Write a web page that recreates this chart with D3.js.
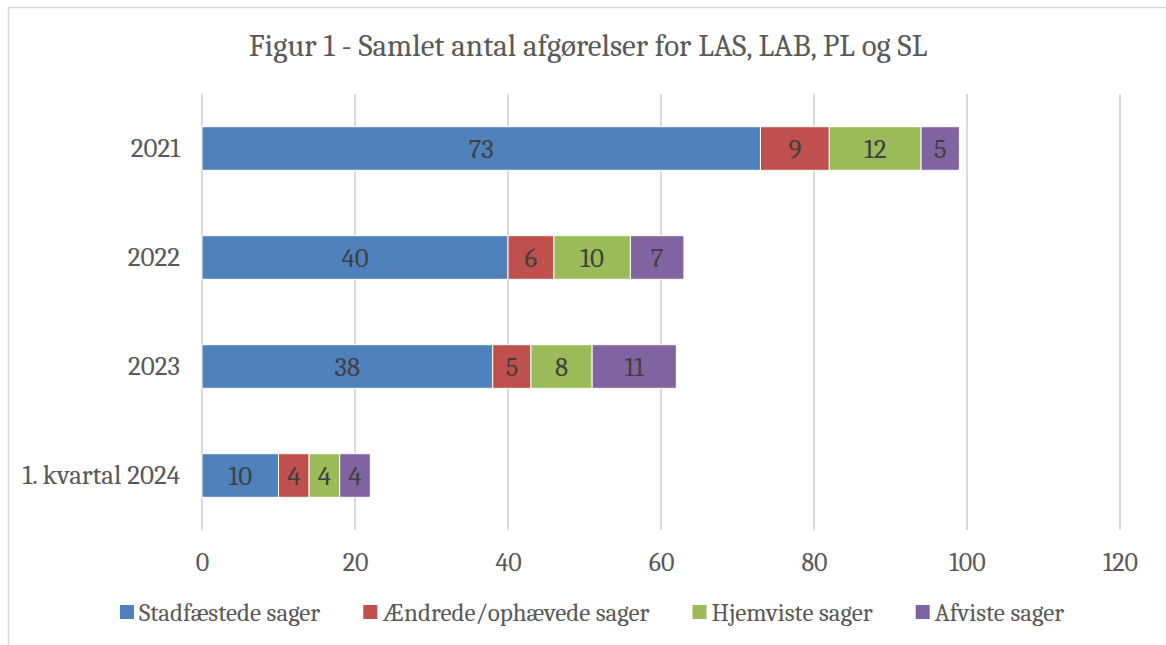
<!DOCTYPE html>
<html>
<head>
<meta charset="utf-8" />
<script src="https://cdn.jsdelivr.net/npm/d3@7"></script>
<style>
    body { margin: 0; background: #fff; }
    svg text { font-family: Cambria, "Liberation Serif", serif; }
</style>
</head>
<body>
<svg id="chart" width="1166" height="645"></svg>
<script>
    var categories = ['2021', '2022', '2023', '1. kvartal 2024'];
    var seriesNames = ['Stadfæstede sager', 'Ændrede/ophævede sager', 'Hjemviste sager', 'Afviste sager'];
    var stadfaestede = [73, 40, 38, 10];
    var aendrede = [9, 6, 5, 4];
    var hjemviste = [12, 10, 8, 4];
    var afviste = [5, 7, 11, 4];
    var xTicks = [0, 20, 40, 60, 80, 100, 120];
    var colors = ['#4F81BD', '#C0504D', '#9BBB59', '#8064A2'];

    var svg = d3.select('#chart');

    // chart border
    svg.append('rect').attr('x', 8.5).attr('y', 7.5).attr('width', 1170).attr('height', 650)
        .attr('fill', '#fff').attr('stroke', '#d9d9d9').attr('stroke-width', 1.5);

    svg.append('text').attr('x', 588).attr('y', 56).attr('text-anchor', 'middle')
        .style('font-size', '31px').style('fill', '#595959')
        .text('Figur 1 - Samlet antal afgørelser for LAS, LAB, PL og SL');

    var x = d3.scaleLinear().domain([0, 120]).range([202, 1120]);
    var y = d3.scaleBand().domain(categories).range([94, 530]).paddingInner(0.6).paddingOuter(0.3);

    // gridlines
    svg.append('g').selectAll('line').data(xTicks).enter().append('line')
        .attr('x1', function(d) { return x(d); }).attr('x2', function(d) { return x(d); })
        .attr('y1', 94).attr('y2', 530)
        .attr('stroke', '#d9d9d9').attr('stroke-width', 2);

    var xAxis = d3.axisBottom(x).tickValues(xTicks).tickSize(0).tickPadding(0);
    var gx = svg.append('g').attr('transform', 'translate(0,552)').call(xAxis);
    gx.select('.domain').remove();
    gx.selectAll('text').style('font-size', '26px').style('fill', '#595959').attr('dy', '0.72em');

    var yAxis = d3.axisLeft(y).tickSize(0).tickPadding(0);
    var gy = svg.append('g').attr('transform', 'translate(180,0)').call(yAxis);
    gy.select('.domain').remove();
    gy.selectAll('text').style('font-size', '27px').style('fill', '#595959');

    var table = categories.map(function(c, i) {
        return { cat: c, s0: stadfaestede[i], s1: aendrede[i], s2: hjemviste[i], s3: afviste[i] };
    });
    var stack = d3.stack().keys(['s0', 's1', 's2', 's3'])(table);

    var layers = svg.append('g').selectAll('g').data(stack).enter().append('g')
        .attr('fill', function(d, i) { return colors[i]; });

    layers.selectAll('rect').data(function(d) { return d; }).enter().append('rect')
        .attr('x', function(d) { return x(d[0]); })
        .attr('width', function(d) { return x(d[1]) - x(d[0]); })
        .attr('y', function(d) { return y(d.data.cat); })
        .attr('height', y.bandwidth())
        .attr('stroke', '#fff').attr('stroke-width', 1);

    layers.selectAll('text').data(function(d) { return d; }).enter().append('text')
        .attr('x', function(d) { return (x(d[0]) + x(d[1])) / 2; })
        .attr('y', function(d) { return y(d.data.cat) + y.bandwidth() / 2; })
        .attr('dy', '0.35em').attr('text-anchor', 'middle')
        .style('font-size', '27px').style('fill', '#404040')
        .text(function(d) { return d[1] - d[0]; });

    // legend
    var legend = svg.append('g').attr('transform', 'translate(0,612)');
    var items = legend.selectAll('g').data(seriesNames).enter().append('g');
    items.append('rect').attr('x', 0).attr('y', -7).attr('width', 14).attr('height', 14)
        .attr('fill', function(d, i) { return colors[i]; });
    items.append('text').attr('x', 19).attr('dy', '0.35em')
        .style('font-size', '25px').style('fill', '#595959')
        .text(function(d) { return d; });
    var pos = 0, offsets = [];
    items.each(function() {
        offsets.push(pos);
        pos += 19 + d3.select(this).select('text').node().getComputedTextLength() + 43;
    });
    var total = pos - 43, start = 592 - total / 2;
    items.attr('transform', function(d, i) { return 'translate(' + (start + offsets[i]) + ',0)'; });
</script>
</body>
</html>
